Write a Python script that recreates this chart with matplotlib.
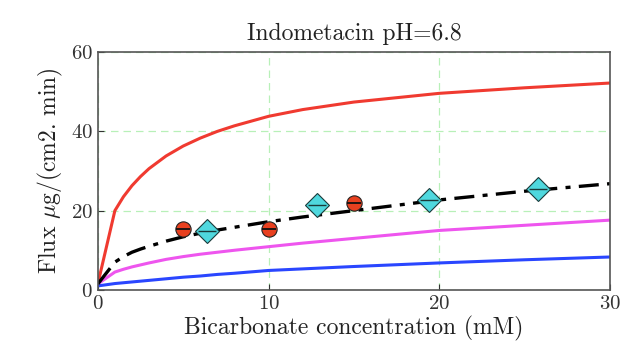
import numpy as np
import matplotlib.pyplot as plt

plt.rcParams['font.family'] = 'serif'
plt.rcParams['font.serif'] = ['cmr10', 'DejaVu Serif']
plt.rcParams['mathtext.fontset'] = 'cm'
plt.rcParams['axes.formatter.use_mathtext'] = True

# model curves
x_fit = [0, 1, 1.5, 2, 2.5, 3, 4, 5, 6, 7, 8, 10, 12, 15, 20, 25, 30]
red_fit = [1.5, 20, 23.5, 26.3, 28.6, 30.6, 33.8, 36.3, 38.3, 40.0, 41.4, 43.8, 45.5, 47.4, 49.6, 51.0, 52.2]
black_fit = [1.5, 7, 8.4, 9.5, 10.3, 11, 12.3, 13.4, 14.3, 15.1, 15.8, 17.2, 18.4, 20, 22.7, 24.9, 26.8]
magenta_fit = [1.5, 4.5, 5.2, 5.8, 6.3, 6.8, 7.7, 8.4, 9.0, 9.5, 10.0, 10.9, 11.8, 13.0, 15.0, 16.3, 17.6]
blue_fit = [1.0, 1.6, 1.8, 2.0, 2.2, 2.4, 2.8, 3.2, 3.5, 3.9, 4.2, 4.9, 5.3, 5.9, 6.8, 7.6, 8.3]

# measured points
x_red = [5, 10, 15]
y_red = [15.3, 15.3, 22.0]
x_cyan = [6.4, 12.85, 19.4, 25.8]
y_cyan = [14.8, 21.5, 22.8, 25.5]

fig = plt.figure(figsize=(6.27, 3.57), dpi=100)
ax = fig.add_axes([0.156, 0.188, 0.817, 0.666])

ax.plot(x_fit, red_fit, color='#f03a30', lw=2.2)
ax.plot(x_fit, magenta_fit, color='#ee55ee', lw=2.2)
ax.plot(x_fit, blue_fit, color='#2a46ff', lw=2.2)
ax.plot(x_fit, black_fit, color='black', lw=2.4, ls=(0, (6, 2.5, 1.5, 2.5)))

ax.plot(x_red, y_red, 'o', ms=11, mfc='#e8401f', mec='#222222', mew=0.8)
ax.plot(x_red, y_red, '_', ms=10, color='#111111', mew=1.3)
ax.plot(x_cyan, y_cyan, 'D', ms=12, mfc='#4fd8de', mec='#1a3a3a', mew=0.8)
ax.plot(x_cyan, y_cyan, '_', ms=13, color='#1a3a3a', mew=1.0)

ax.set_xlim(0, 30)
ax.set_ylim(0, 60)
ax.set_xticks([0, 10, 20, 30])
ax.set_yticks([0, 20, 40, 60])
ax.grid(True, color='#b8f0b8', ls=(0, (6, 4)), lw=0.9)
ax.tick_params(direction='in', labelsize=15, colors='#333333', length=4)
for s in ax.spines.values():
    s.set_color('#555555')
    s.set_linewidth(1.2)

ax.set_title('Indometacin pH=6.8', fontsize=17, color='#222222', pad=9)
ax.set_xlabel('Bicarbonate concentration (mM)', fontsize=17, color='#222222', labelpad=2)
ax.set_ylabel(r'Flux $\mu$g/(cm2. min)', fontsize=17, color='#222222', labelpad=4)

fig.savefig('out.png')
